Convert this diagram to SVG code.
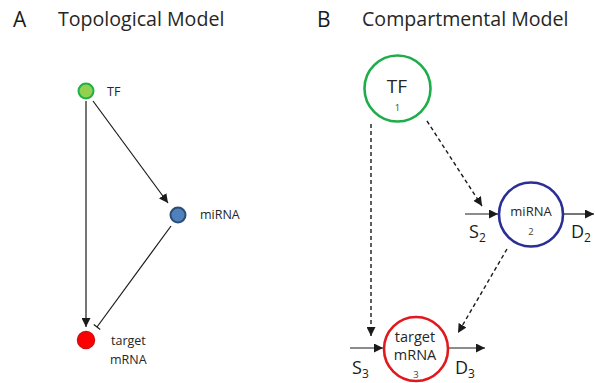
<svg xmlns="http://www.w3.org/2000/svg" width="595" height="383" viewBox="0 0 595 383">
  <defs>
    <marker id="arrow" viewBox="0 0 10 10" refX="10" refY="5" markerWidth="9" markerHeight="9" markerUnits="userSpaceOnUse" orient="auto">
      <path d="M0,0 L10,5 L0,10 Z" fill="#1a1a1a"/>
    </marker>
  </defs>
  <style>
    .title { font-family: "Open Sans", "Liberation Sans", sans-serif; font-size: 19.6px; fill: #262626; }
    .panel { font-family: "Open Sans", "Liberation Sans", sans-serif; font-size: 21px; fill: #1a1a1a; }
    .small { font-family: "Open Sans", "Liberation Sans", sans-serif; font-size: 12.5px; fill: #262626; }
    .inner { font-family: "Open Sans", "Liberation Sans", sans-serif; font-size: 13px; fill: #262626; text-anchor: middle; }
    .idx { font-family: "Open Sans", "Liberation Sans", sans-serif; font-size: 9.5px; fill: #444; text-anchor: middle; }
    .flux { font-family: "Open Sans", "Liberation Sans", sans-serif; font-size: 18px; fill: #1a1a1a; }
    .sub { font-size: 12px; }
    .solid { stroke: #1a1a1a; stroke-width: 1.2; fill: none; }
    .dash { stroke: #1a1a1a; stroke-width: 1.4; fill: none; stroke-dasharray: 4 3; }
    .comp { fill: #fff; stroke-width: 2.6; }
  </style>

  <!-- Panel A titles -->
  <text class="panel" x="13" y="27">A</text>
  <text class="title" x="58" y="26">Topological Model</text>

  <!-- Panel B titles -->
  <text class="panel" x="317" y="27">B</text>
  <text class="title" x="362" y="26">Compartmental Model</text>

  <!-- Connectors -->
  <g id="connectors">
    <!-- Topological -->
    <line class="solid" x1="86" y1="101" x2="86" y2="327" marker-end="url(#arrow)"/>
    <line class="solid" x1="93" y1="101" x2="168" y2="203" marker-end="url(#arrow)"/>
    <line class="solid" x1="171" y1="226" x2="97" y2="327"/>
    <line class="solid" x1="93.8" y1="324.6" x2="100.2" y2="329.4"/>
    <!-- Compartmental: regulation (dashed) -->
    <line class="dash" x1="371" y1="124" x2="371" y2="336" marker-end="url(#arrow)"/>
    <line class="dash" x1="427" y1="121" x2="482" y2="206" marker-end="url(#arrow)"/>
    <line class="dash" x1="507" y1="249" x2="458" y2="333" marker-end="url(#arrow)"/>
    <!-- Compartmental: synthesis / degradation fluxes -->
    <line class="solid" x1="465" y1="214" x2="498" y2="214" marker-end="url(#arrow)"/>
    <line class="solid" x1="563" y1="214" x2="594" y2="214" marker-end="url(#arrow)"/>
    <line class="solid" x1="350" y1="348" x2="383" y2="348" marker-end="url(#arrow)"/>
    <line class="solid" x1="449" y1="348" x2="485" y2="348" marker-end="url(#arrow)"/>
  </g>

  <!-- Topological nodes -->
  <g id="topo-tf">
    <circle cx="86" cy="91" r="7.5" fill="#92d050" stroke="#1fb04a" stroke-width="2"/>
    <text class="small" x="107" y="96">TF</text>
  </g>
  <g id="topo-mirna">
    <circle cx="178" cy="215" r="7.5" fill="#4f81bd" stroke="#2c4d75" stroke-width="2"/>
    <text class="small" x="200" y="219">miRNA</text>
  </g>
  <g id="topo-target">
    <circle cx="86" cy="340" r="8.5" fill="#ff0000" stroke="#d01010" stroke-width="1.5"/>
    <text class="small" x="111" y="345">target</text>
    <text class="small" x="110" y="364">mRNA</text>
  </g>

  <!-- Compartmental nodes -->
  <g id="comp-tf">
    <circle class="comp" cx="397.5" cy="88.5" r="33" stroke="#1fad4b"/>
    <text class="inner" x="397" y="93" style="font-size:19px">TF</text>
    <text class="idx" x="397.5" y="111">1</text>
  </g>
  <g id="comp-mirna">
    <circle class="comp" cx="531" cy="214.5" r="32" stroke="#2b2f94"/>
    <text class="inner" x="531" y="216">miRNA</text>
    <text class="idx" x="531" y="235">2</text>
  </g>
  <g id="comp-target">
    <circle class="comp" cx="416" cy="349" r="32" stroke="#e0191f"/>
    <text class="inner" x="415" y="342" style="font-size:14.5px">target</text>
    <text class="inner" x="415" y="360" style="font-size:14.5px">mRNA</text>
    <text class="idx" x="416" y="378">3</text>
  </g>

  <!-- Flux labels -->
  <g id="flux-labels">
    <text class="flux" x="469" y="238">S<tspan class="sub" dy="4">2</tspan></text>
    <text class="flux" x="571" y="238">D<tspan class="sub" dy="4">2</tspan></text>
    <text class="flux" x="352" y="374">S<tspan class="sub" dy="4">3</tspan></text>
    <text class="flux" x="455" y="374">D<tspan class="sub" dy="4">3</tspan></text>
  </g>
</svg>
